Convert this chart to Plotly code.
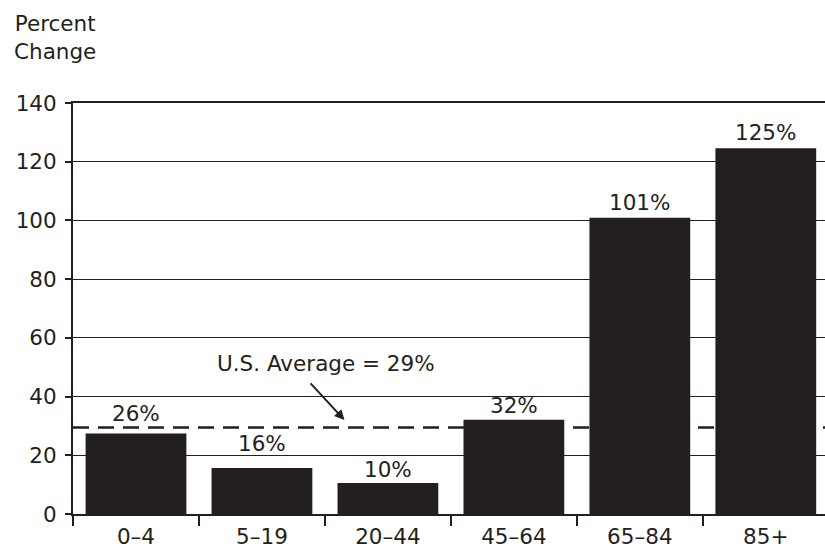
import plotly.graph_objects as go

categories = ["0–4", "5–19", "20–44", "45–64", "65–84", "85+"]
values = [27.4, 15.7, 10.6, 32.1, 100.9, 124.6]
labels = ["26%", "16%", "10%", "32%", "101%", "125%"]
label_shift = [20, 24, 13, 14, 15, 16]
us_average = 29.5
avg_text = "U.S. Average = 29%"
y_ticks = [0, 20, 40, 60, 80, 100, 120, 140]

INK = "#231f20"
FONT = "DejaVu Sans, Arial, sans-serif"
FS = 21.5

fig = go.Figure()
fig.add_trace(go.Bar(
    x=categories, y=values, width=0.8,
    marker=dict(color=INK, line=dict(width=0)),
    hoverinfo="skip", showlegend=False,
))

# dashed U.S. average line (under bars)
fig.add_shape(type="line", xref="paper", yref="y", x0=0, x1=1,
              y0=us_average, y1=us_average, layer="below",
              line=dict(color=INK, width=2.5, dash="16px,9px"))

annotations = []
for c, v, t, s in zip(categories, values, labels, label_shift):
    annotations.append(dict(x=c, y=v, text=t, showarrow=False, yshift=s,
                            font=dict(size=FS, color=INK, family=FONT)))

annotations.append(dict(x=1.51, y=51.4, text=avg_text, showarrow=False,
                        font=dict(size=FS, color=INK, family=FONT)))
annotations.append(dict(x=1.655, y=32.0, ax=1.375, ay=45.0, axref="x", ayref="y",
                        text="", showarrow=True, arrowhead=2, arrowsize=1,
                        arrowwidth=2, arrowcolor=INK, standoff=0, startstandoff=0))
annotations.append(dict(xref="paper", yref="paper", x=-0.024, y=1.229,
                        text="Percent<br>Change", showarrow=False, align="center",
                        xanchor="center", yanchor="top",
                        font=dict(size=FS, color=INK, family=FONT)))

fig.update_layout(
    width=825, height=551,
    margin=dict(l=73, r=0, t=103, b=37),
    paper_bgcolor="white", plot_bgcolor="white",
    font=dict(family=FONT, size=FS, color=INK),
    annotations=annotations,
    bargap=0.2,
)
fig.update_xaxes(
    type="category", range=[-0.5, 5.47],
    showline=True, linewidth=2, linecolor=INK, mirror=True,
    ticks="outside", tickson="boundaries", ticklen=10, tickwidth=2, tickcolor=INK,
    showgrid=False, tickfont=dict(size=FS, color=INK, family=FONT),
    ticklabelstandoff=2,
)
fig.update_yaxes(
    range=[0, 140], tickvals=y_ticks,
    showline=True, linewidth=2, linecolor=INK,
    ticks="outside", ticklen=6, tickwidth=2, tickcolor=INK,
    showgrid=True, gridcolor=INK, gridwidth=1, zeroline=False,
    tickfont=dict(size=FS, color=INK, family=FONT),
    ticklabelstandoff=4,
)

fig.write_html("out.html")
